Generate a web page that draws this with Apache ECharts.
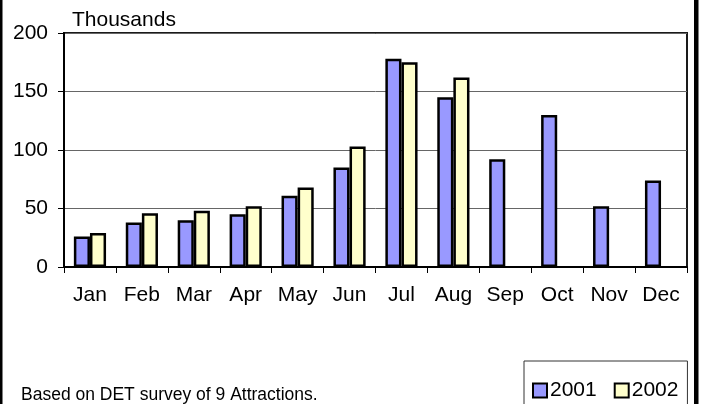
<!DOCTYPE html>
<html>
<head>
<meta charset="utf-8">
<script src="https://cdn.jsdelivr.net/npm/echarts@6/dist/echarts.min.js"></script>
<style>
html,body{margin:0;padding:0;background:#fff;}
#c{width:701px;height:404px;}
</style>
</head>
<body>
<div id="c"></div>
<script>
const months = ['Jan','Feb','Mar','Apr','May','Jun','Jul','Aug','Sep','Oct','Nov','Dec'];
const visitors2001 = [26, 38, 40, 45, 61, 85, 178, 145, 92, 130, 52, 74];
const visitors2002 = [29, 46, 48, 52, 68, 103, 175, 162, null, null, null, null];
const yTicks = {min: 0, max: 200, interval: 50};
const unitLabel = 'Thousands';
const footnote = 'Based on DET survey of 9 Attractions.';

const FONT = 'Liberation Sans, Arial, sans-serif';
const chart = echarts.init(document.getElementById('c'), null, {renderer: 'canvas'});
chart.setOption({
  animation: false,
  backgroundColor: '#ffffff',
  textStyle: {fontFamily: FONT},
  grid: {
    left: 64, top: 33, width: 623, height: 234,
    show: true, borderColor: '#1a1a1a', borderWidth: 2, backgroundColor: 'transparent'
  },
  xAxis: {
    type: 'category',
    data: months,
    axisLine: {show: true, lineStyle: {color: '#000', width: 2}},
    axisTick: {show: true, alignWithLabel: false, length: 6, lineStyle: {color: '#000', width: 1}},
    axisLabel: {color: '#000', fontSize: 21, fontFamily: FONT, margin: 18, interval: 0},
    splitLine: {show: false}
  },
  yAxis: {
    type: 'value',
    min: yTicks.min, max: yTicks.max, interval: yTicks.interval,
    axisLine: {show: true, lineStyle: {color: '#000', width: 2}},
    axisTick: {show: true, inside: false, length: 6, lineStyle: {color: '#000', width: 1}},
    axisLabel: {color: '#000', fontSize: 21, fontFamily: FONT, margin: 16},
    splitLine: {show: true, lineStyle: {color: '#666', width: 1}}
  },
  legend: {
    left: 524, top: 361,
    orient: 'horizontal',
    padding: [19, 9, 20, 8],
    itemGap: 17,
    itemWidth: 14, itemHeight: 14,
    icon: 'rect',
    borderColor: '#333', borderWidth: 1,
    backgroundColor: '#fff',
    textStyle: {color: '#000', fontSize: 21, fontFamily: FONT, padding: [0,0,0,-2]},
    data: ['2001', '2002']
  },
  series: [
    {
      name: '2001', type: 'bar', data: visitors2001,
      barGap: '0%', barCategoryGap: '38%',
      itemStyle: {color: '#9999ff', borderColor: '#000', borderWidth: 2.5}
    },
    {
      name: '2002', type: 'bar', data: visitors2002,
      barGap: '0%', barCategoryGap: '38%',
      itemStyle: {color: '#ffffcc', borderColor: '#000', borderWidth: 2.5}
    }
  ],
  graphic: [
    {type: 'text', left: 72, top: 10, style: {text: unitLabel, fill: '#000', font: '21px ' + FONT}},
    {type: 'text', left: 21, top: 386, style: {text: footnote, fill: '#000', font: '17.5px ' + FONT}},
    {type: 'rect', shape: {x: 0, y: 0, width: 2.5, height: 404}, style: {fill: '#000'}},
    {type: 'rect', shape: {x: 694, y: 0, width: 4.5, height: 404}, style: {fill: '#000'}}
  ]
});
</script>
</body>
</html>
